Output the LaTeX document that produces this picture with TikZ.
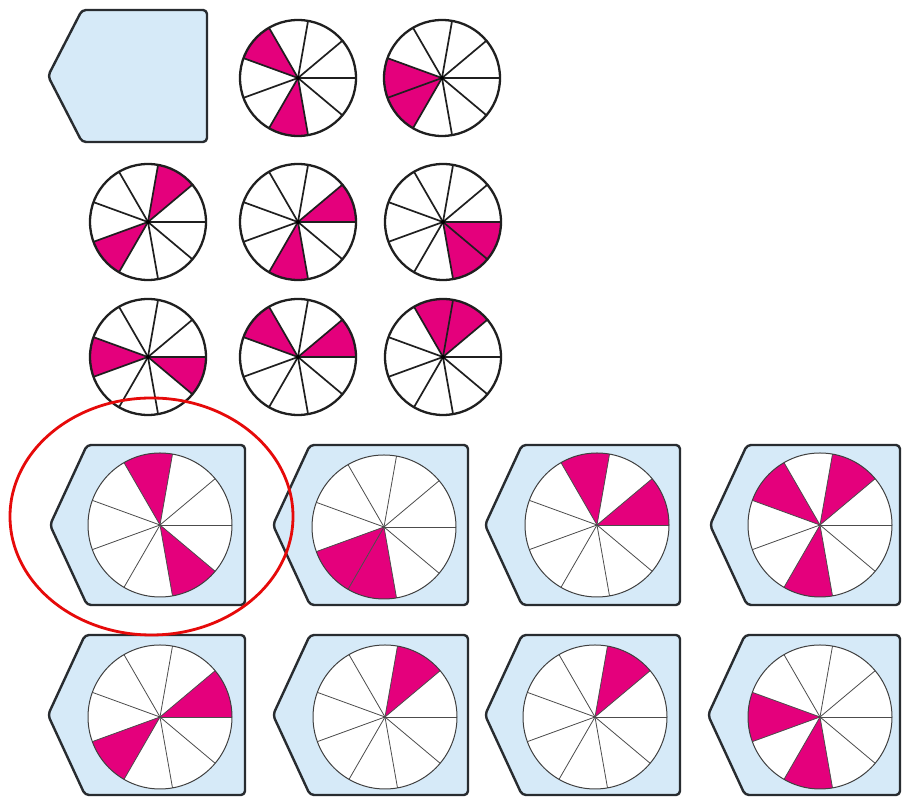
\documentclass[tikz,border=0pt]{standalone}
\usepackage{tikz}
\definecolor{mag}{RGB}{228,0,124}
\definecolor{tagblue}{RGB}{214,234,248}
\definecolor{edge}{RGB}{40,44,48}
\definecolor{redring}{RGB}{230,10,10}
\tikzset{
  tagst/.style={fill=tagblue,draw=edge,line width=2.4pt,rounded corners=4pt,line join=round},
  bigspoke/.style={draw=black!88,line width=1.7pt},
  bigrim/.style={draw=black!88,line width=2.3pt},
  smallspoke/.style={draw=black!70,line width=0.8pt},
  smallrim/.style={draw=black!75,line width=1.0pt},
  ring/.style={draw=redring,line width=2.8pt},
}
% #1 x, #2 y, #3 radius, #4 list of filled sectors, #5 style prefix
\newcommand\mywheel[5]{%
  \begin{scope}[shift={(#1,#2)}]
    \fill[white] (0,0) circle (#3);
    \foreach \k in {#4} {%
      \fill[mag] (0,0) -- ({40*\k}:#3) arc[start angle={40*\k}, end angle={40*\k+40}, radius=#3] -- cycle;}
    \foreach \a in {0,40,...,320} \draw[#5spoke] (0,0) -- (\a:#3);
    \draw[#5rim] (0,0) circle (#3);
  \end{scope}}
% #1 left point x, #2 centre y, #3 width, #4 half height, #5 corner offset
\newcommand\mytag[5]{%
  \draw[tagst] (#1,#2) -- ({#1+#5},{#2+#4}) -- ({#1+#3},{#2+#4}) -- ({#1+#3},{#2-#4}) -- ({#1+#5},{#2-#4}) -- cycle;}
\begin{document}
\begin{tikzpicture}[x=1pt,y=1pt]
\useasboundingbox (0,0) rectangle (905,799);
\fill[white] (0,0) rectangle (905,799);
% reference tag
\mytag{48}{723}{159}{66}{34}
\coordinate (reftag) at (128,723);
% question grid
\mywheel{298}{721}{58}{3,6}{big}
\mywheel{442}{721}{58}{4,5}{big}
\mywheel{148}{577}{58}{1,5}{big}
\mywheel{298}{577}{58}{0,6}{big}
\mywheel{443}{577}{58}{7,8}{big}
\mywheel{148}{442}{58}{4,8}{big}
\mywheel{298}{442}{58}{0,3}{big}
\mywheel{443}{442}{58}{1,2}{big}
\foreach \p in {(298,721),(442,721),(148,577),(298,577),(443,577),(148,442),(298,442),(443,442)}
  \fill[black] \p circle (2);
% options row A
\mytag{50}{274}{195}{80}{37}
\mywheel{160}{274}{72}{2,7}{small}
\mytag{273}{274}{195}{80}{37}
\mywheel{384}{272}{72}{5,6}{small}
\mytag{485}{274}{195}{80}{37}
\mywheel{597}{274}{72}{0,2}{small}
\mytag{710}{274}{190}{80}{37}
\mywheel{820}{274}{72}{1,3,6}{small}
% options row B
\mytag{48}{84}{197}{80}{37}
\mywheel{160}{82}{72}{0,5}{small}
\mytag{273}{84}{195}{80}{37}
\mywheel{385}{82}{72}{1}{small}
\mytag{485}{84}{195}{80}{37}
\mywheel{595}{82}{72}{1}{small}
\mytag{708}{84}{192}{80}{37}
\mywheel{820}{82}{72}{4,6}{small}
% red ring round option 1
\draw[ring] (151.5,282.5) ellipse [x radius=141.5, y radius=118.5];
\end{tikzpicture}
\end{document}
